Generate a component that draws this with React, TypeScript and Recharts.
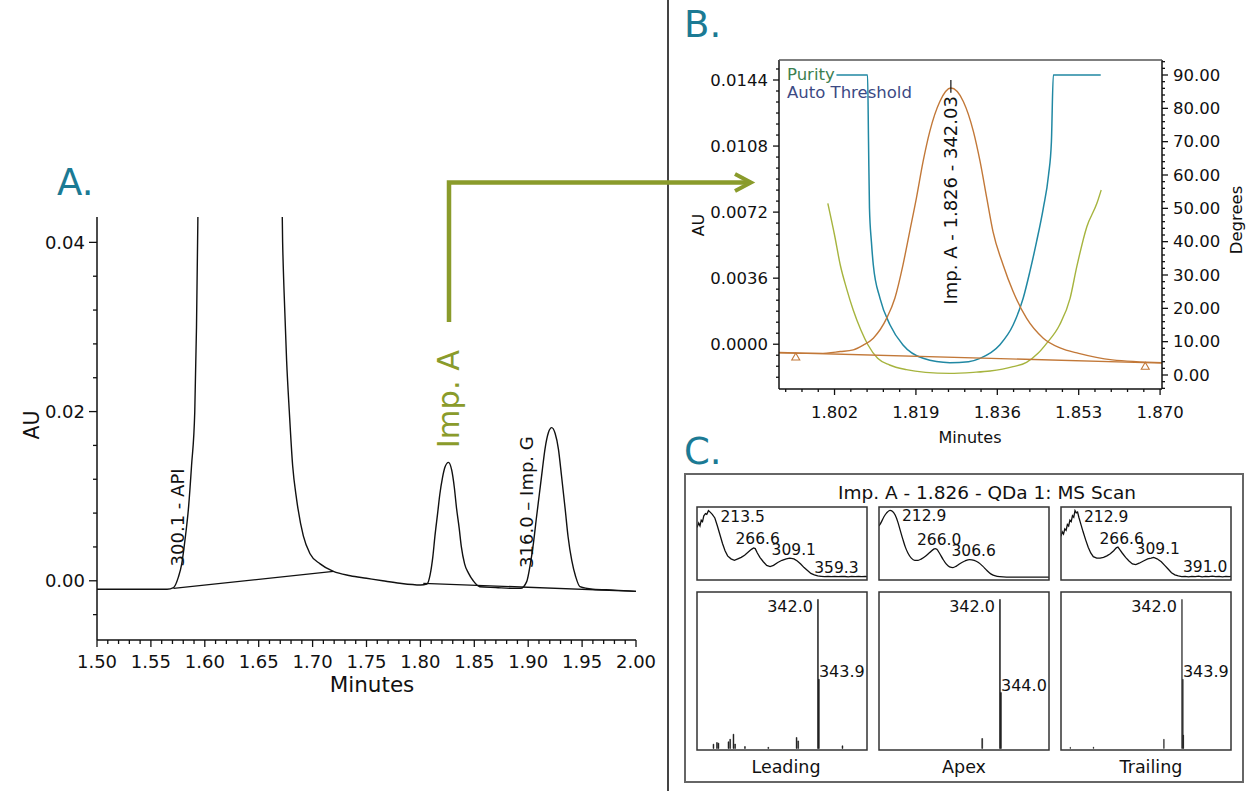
import React from 'react';
import {
  ComposedChart, LineChart, BarChart, Line, Bar, Scatter, XAxis, YAxis, ReferenceDot, ReferenceLine,
} from 'recharts';

const FONT = '"DejaVu Sans", Verdana, sans-serif';
const INK = '#111';
const HEAD = '#1b7a94';
const ARROW = '#8a9b2b';
const ORANGE = '#c27838';
const TEAL = '#2088a3';
const OLIVE = '#a6b43e';

// ---------------- Panel A: UV chromatogram (minutes, AU) ----------------
const chromA: [number, number][] = [
  [1.5, -0.001], [1.53, -0.001], [1.555, -0.001], [1.565, -0.001], [1.571, -0.0008], [1.5754, 0.0004],
  [1.5786, 0.002], [1.5816, 0.0048], [1.585, 0.0088], [1.5877, 0.0136], [1.5907, 0.02], [1.5923, 0.03],
  [1.5935, 0.042], [1.595, 0.06], [1.6, 0.15], [1.63, 0.5], [1.665, 0.15], [1.67, 0.06], [1.6722, 0.04],
  [1.6735, 0.0343], [1.6759, 0.026], [1.6784, 0.02], [1.6815, 0.0136], [1.6852, 0.0096], [1.6914, 0.0053],
  [1.6976, 0.0032], [1.707, 0.002], [1.7193, 0.0011], [1.735, 0.0006], [1.75, 0.0003], [1.765, 0.0],
  [1.781, -0.0003], [1.8, -0.0005], [1.806, -0.0004], [1.809, 0.0007], [1.8115, 0.0028], [1.8135, 0.0053],
  [1.816, 0.008], [1.818, 0.0102], [1.8205, 0.0122], [1.823, 0.0135], [1.826, 0.014], [1.829, 0.0131],
  [1.8315, 0.011], [1.8335, 0.0086], [1.836, 0.0062], [1.838, 0.004], [1.841, 0.002], [1.8446, 0.0009],
  [1.849, 0.0], [1.855, -0.0007], [1.87, -0.0008], [1.885, -0.0009], [1.893, -0.0009], [1.8986, -0.0001],
  [1.902, 0.002], [1.9048, 0.0044], [1.9075, 0.0073], [1.9103, 0.0102], [1.913, 0.013], [1.9156, 0.0156],
  [1.9187, 0.0175], [1.9218, 0.0181], [1.925, 0.0174], [1.928, 0.0156], [1.931, 0.0123], [1.9342, 0.0086],
  [1.937, 0.0052], [1.9404, 0.0024], [1.944, 0.0005], [1.948, -0.0007], [1.96, -0.001], [1.98, -0.0011],
  [2.0, -0.00125],
];
const baseA1: [number, number][] = [[1.571, -0.0009], [1.7193, 0.0011]];
const baseA2: [number, number][] = [[1.8027, -0.0003], [2.0, -0.00125]];
const aXMajors = [1.5, 1.55, 1.6, 1.65, 1.7, 1.75, 1.8, 1.85, 1.9, 1.95, 2.0];
const aXLabels = ['1.50', '1.55', '1.60', '1.65', '1.70', '1.75', '1.80', '1.85', '1.90', '1.95', '2.00'];
const aYMajors = [0, 0.02, 0.04];
const aYLabels = ['0.00', '0.02', '0.04'];
const aPeakNames = [
  { t: 1.575, v: -0.0009, text: '300.1 - API' },
  { t: 1.895, v: -0.0009, text: '316.0 \u2013 Imp. G' },
];

// ---------------- Panel B: peak purity (minutes, AU / degrees) ----------------
const peakB: [number, number][] = [
  [1.7904, -0.00047], [1.799, -0.0005], [1.8032, -0.0004], [1.8059, -0.00031], [1.808, -0.00005],
  [1.8101, 0.00033], [1.8129, 0.00142], [1.8146, 0.00251], [1.8163, 0.00433], [1.8177, 0.00614],
  [1.8191, 0.00796], [1.8205, 0.00996], [1.8219, 0.0116], [1.824, 0.01323], [1.8263, 0.01396],
  [1.8289, 0.01323], [1.831, 0.0116], [1.8324, 0.00996], [1.8338, 0.00796], [1.8351, 0.00614],
  [1.8372, 0.00433], [1.8393, 0.00287], [1.8421, 0.00142], [1.8456, 0.00033], [1.8491, -0.0002],
  [1.853, -0.0005], [1.86, -0.00085], [1.8704, -0.001],
];
const baseB: [number, number][] = [[1.7904, -0.00045], [1.8704, -0.00103]];
const markersB: [number, number][] = [[1.7939, -0.0007], [1.8669, -0.0012]];
const purityB: [number, number][] = [
  [1.8024, 90], [1.8089, 90], [1.8091, 70], [1.8093, 50], [1.8097, 40], [1.8101, 33], [1.8115, 23],
  [1.8136, 15], [1.8163, 9], [1.8205, 5], [1.8261, 3.7], [1.83, 4], [1.8324, 5], [1.8365, 9],
  [1.8393, 15], [1.8414, 23], [1.8428, 31], [1.8442, 40], [1.8456, 50], [1.8467, 60], [1.8473, 70],
  [1.8477, 90], [1.8576, 90],
];
const thresholdB: [number, number][] = [
  [1.8006, 51.5], [1.802, 42], [1.8032, 33], [1.8045, 26], [1.8059, 19.5], [1.8075, 13.5], [1.809, 9],
  [1.811, 5], [1.8135, 3], [1.817, 1.6], [1.821, 0.8], [1.826, 0.5], [1.831, 0.8], [1.8345, 1.2],
  [1.8393, 2.5], [1.8421, 3.8], [1.8445, 6.5], [1.8463, 9.5], [1.849, 15], [1.8512, 23], [1.8526, 32.5],
  [1.8547, 44.5], [1.8568, 51.5], [1.8577, 55.5],
];
const bApex = { t: 1.8263, v: 0.01396, text: 'Imp. A - 1.826 - 342.03' };
const bXMajors = [1.802, 1.819, 1.836, 1.853, 1.87];
const bXLabels = ['1.802', '1.819', '1.836', '1.853', '1.870'];
const bAUMajors = [0, 0.0036, 0.0072, 0.0108, 0.0144];
const bAULabels = ['0.0000', '0.0036', '0.0072', '0.0108', '0.0144'];
const bDegMajors = [0, 10, 20, 30, 40, 50, 60, 70, 80, 90];
const bDegLabels = ['0.00', '10.00', '20.00', '30.00', '40.00', '50.00', '60.00', '70.00', '80.00', '90.00'];

// ---------------- Panel C: UV spectra (nm, rel. abs) and MS spectra (m/z, %) ----------------
const uvLeading: [number, number][] = [
  [200, 0.72], [202, 0.78], [203.5, 0.74], [205, 0.82], [206.5, 0.8], [208, 0.88], [210, 0.91], [211.5, 0.9],
  [213.5, 0.95], [215.5, 0.93], [218, 0.9], [221, 0.85], [224, 0.74], [227, 0.62], [230, 0.5], [233, 0.4],
  [236, 0.33], [240, 0.29], [244, 0.27], [248, 0.29], [252, 0.31], [256, 0.34], [260, 0.38], [264, 0.42],
  [266.6, 0.44], [268.5, 0.43], [271, 0.37], [274, 0.31], [278, 0.25], [282, 0.2], [286, 0.185], [290, 0.2],
  [295, 0.24], [300, 0.27], [305, 0.29], [309.1, 0.3], [314, 0.29], [318, 0.26], [322, 0.22], [326, 0.17],
  [330, 0.13], [334, 0.09], [338, 0.07], [342, 0.055], [346, 0.05], [350, 0.045], [354, 0.05], [358, 0.045],
  [362, 0.05], [366, 0.045], [370, 0.05], [374, 0.048], [378, 0.044], [382, 0.05], [386, 0.046], [390, 0.05],
  [394, 0.045], [398, 0.05], [400, 0.047],
];
const uvApex: [number, number][] = [
  [200, 0.74], [203, 0.8], [206, 0.87], [209, 0.92], [212.9, 0.955], [216, 0.94], [219, 0.89], [222, 0.8],
  [225, 0.68], [228, 0.56], [231, 0.45], [234, 0.37], [238, 0.3], [242, 0.27], [246, 0.27], [250, 0.29],
  [255, 0.33], [260, 0.38], [264, 0.42], [266, 0.43], [268, 0.42], [271, 0.37], [275, 0.29], [279, 0.22],
  [283, 0.18], [287, 0.17], [291, 0.19], [296, 0.23], [301, 0.26], [306.6, 0.28], [312, 0.27], [317, 0.24],
  [322, 0.19], [327, 0.13], [332, 0.08], [337, 0.055], [342, 0.045], [350, 0.04], [360, 0.04], [380, 0.04],
  [400, 0.04],
];
const uvTrailing: [number, number][] = [
  [200, 0.6], [201.5, 0.66], [203, 0.63], [204.5, 0.7], [206, 0.68], [207.5, 0.76], [209, 0.74], [210.5, 0.82],
  [212, 0.8], [213.5, 0.88], [215, 0.86], [216.5, 0.95], [218, 0.92], [219.5, 0.93], [221, 0.86], [223, 0.78],
  [226, 0.66], [229, 0.55], [232, 0.45], [235, 0.37], [238, 0.32], [242, 0.3], [246, 0.3], [250, 0.31],
  [254, 0.33], [258, 0.36], [262, 0.4], [265, 0.44], [267, 0.45], [269, 0.42], [272, 0.37], [276, 0.31],
  [280, 0.26], [284, 0.22], [288, 0.21], [292, 0.23], [297, 0.26], [302, 0.29], [306, 0.3], [309.1, 0.31],
  [313, 0.29], [318, 0.25], [322, 0.2], [326, 0.15], [330, 0.1], [334, 0.07], [338, 0.055], [342, 0.045],
  [346, 0.05], [350, 0.042], [354, 0.05], [358, 0.045], [362, 0.052], [366, 0.044], [370, 0.05], [374, 0.046],
  [378, 0.052], [382, 0.045], [386, 0.05], [390, 0.044], [394, 0.05], [398, 0.046], [400, 0.05],
];
const uvLeadingPeaks = [
  { x: 213.5, y: 0.95, text: '213.5', kind: 'right' },
  { x: 266.6, y: 0.44, text: '266.6', kind: 'top' },
  { x: 309.1, y: 0.3, text: '309.1', kind: 'top' },
  { x: 359.3, y: 0.045, text: '359.3', kind: 'top' },
];
const uvApexPeaks = [
  { x: 212.9, y: 0.955, text: '212.9', kind: 'right' },
  { x: 266.0, y: 0.43, text: '266.0', kind: 'top' },
  { x: 306.6, y: 0.28, text: '306.6', kind: 'top' },
];
const uvTrailingPeaks = [
  { x: 212.9, y: 0.95, text: '212.9', kind: 'right' },
  { x: 266.6, y: 0.45, text: '266.6', kind: 'top' },
  { x: 309.1, y: 0.31, text: '309.1', kind: 'top' },
  { x: 391.0, y: 0.045, text: '391.0', kind: 'topLeft' },
];
const msLeading: [number, number][] = [
  [133, 2.9], [140, 4], [143, 3.6], [163, 4.5], [166.4, 6.2], [173, 9.6], [176.3, 3], [196, 1.3],
  [242.7, 0.8], [299.3, 7.4], [302.5, 5.1], [342, 100], [343.9, 46.4], [391, 1.8],
];
const msApex: [number, number][] = [[306.5, 6.7], [342, 100], [344, 37.5]];
const msTrailing: [number, number][] = [[118.5, 0.8], [165, 1], [305.9, 6.2], [342, 100], [343.9, 46.4], [344.9, 9]];
const msLeadingPeaks = [
  { x: 342, y: 100, text: '342.0', kind: 'msLeft' },
  { x: 343.9, y: 46.4, text: '343.9', kind: 'msRight' },
];
const msApexPeaks = [
  { x: 342, y: 100, text: '342.0', kind: 'msLeft' },
  { x: 344, y: 37.5, text: '344.0', kind: 'msRight' },
];
const msTrailingPeaks = [
  { x: 342, y: 100, text: '342.0', kind: 'msLeft' },
  { x: 343.9, y: 46.4, text: '343.9', kind: 'msRight' },
];
const cTitle = 'Imp. A - 1.826 - QDa 1: MS Scan';
const cNames = ['Leading', 'Apex', 'Trailing'];

// ---------------- helpers ----------------
const toTV = (a: [number, number][]) => a.map(([t, v]) => ({ t, v }));
const toTD = (a: [number, number][]) => a.map(([t, d]) => ({ t, d }));
const toXY = (a: [number, number][]) => a.map(([x, y]) => ({ x, y }));
const toMS = (a: [number, number][]) => a.map(([mz, i]) => ({ mz, i }));
function seq(a: number, b: number, step: number) {
  const out: number[] = [];
  const n = Math.round((b - a) / step);
  for (let i = 0; i <= n; i++) out.push(+(a + i * step).toFixed(6));
  return out;
}

type TickCfg = {
  side: 'left' | 'right' | 'bottom'; majors: number[]; labels: string[];
  majorLen: number; minorLen: number; gap: number; fontSize: number;
};
const makeTick = (c: TickCfg) => (p: any) => {
  const { x, y, payload } = p;
  const v = payload.value;
  const i = c.majors.findIndex((m) => Math.abs(m - v) < 1e-6);
  const len = i >= 0 ? c.majorLen : c.minorLen;
  const label = i >= 0 ? c.labels[i] : null;
  if (c.side === 'bottom') {
    return (
      <g>
        <line x1={x} x2={x} y1={y} y2={y + len} stroke={INK} strokeWidth={1.3} />
        {label && (
          <text x={x} y={y + c.gap} textAnchor="middle" dominantBaseline="central" fontSize={c.fontSize} fontFamily={FONT} fill={INK}>{label}</text>
        )}
      </g>
    );
  }
  const dir = c.side === 'left' ? -1 : 1;
  return (
    <g>
      <line x1={x} x2={x + dir * len} y1={y} y2={y} stroke={INK} strokeWidth={1.3} />
      {label && (
        <text x={x + dir * c.gap} y={y} textAnchor={c.side === 'left' ? 'end' : 'start'} dominantBaseline="central" fontSize={c.fontSize} fontFamily={FONT} fill={INK}>{label}</text>
      )}
    </g>
  );
};

const rotLabel = (text: string, dx: number, dy: number, anchor: 'start' | 'end', size: number, color = INK) => (p: any) => {
  const vb = p.viewBox || {};
  const x = (vb.x || 0) + dx;
  const y = (vb.y || 0) + dy;
  return (
    <text x={x} y={y} transform={`rotate(-90 ${x} ${y})`} textAnchor={anchor} dominantBaseline="central" fontSize={size} fontFamily={FONT} fill={color}>{text}</text>
  );
};

const PLACE: Record<string, { anchor: 'start' | 'middle' | 'end'; dx: number; dy: number }> = {
  right: { anchor: 'start', dx: 12, dy: 11 },
  top: { anchor: 'middle', dx: 4, dy: -3.5 },
  topLeft: { anchor: 'end', dx: 4, dy: -5 },
  msLeft: { anchor: 'end', dx: -5, dy: 13 },
  msRight: { anchor: 'start', dx: 0, dy: -2 },
};
const peakLabel = (text: string, kind: string, size: number) => (p: any) => {
  const vb = p.viewBox || {};
  const pl = PLACE[kind];
  return (
    <text x={(vb.x || 0) + pl.dx} y={(vb.y || 0) + pl.dy} textAnchor={pl.anchor} fontSize={size} fontFamily={FONT} fill={INK}>{text}</text>
  );
};

const triangle = (p: any) => {
  const { cx, cy } = p;
  return <path d={`M${cx},${cy - 4} L${cx + 4},${cy + 3} L${cx - 4},${cy + 3} Z`} fill="none" stroke={ORANGE} strokeWidth={1.1} />;
};

// ---------------- chart pieces ----------------
function PanelA() {
  return (
    <ComposedChart width={668} height={720} margin={{ top: 217, right: 32, bottom: 20, left: 27 }}>
      <XAxis type="number" dataKey="t" domain={[1.5, 2.0]} ticks={seq(1.5, 2.0, 0.01)} interval={0}
        allowDataOverflow tickSize={0} tickMargin={0} tickLine={false} height={60}
        axisLine={{ stroke: INK, strokeWidth: 1.5 }}
        tick={makeTick({ side: 'bottom', majors: aXMajors, labels: aXLabels, majorLen: 7, minorLen: 4, gap: 21, fontSize: 18 })} />
      <YAxis type="number" dataKey="v" domain={[-0.007, 0.043]} ticks={seq(-0.004, 0.04, 0.004)} interval={0}
        allowDataOverflow tickSize={0} tickMargin={0} tickLine={false} width={70}
        axisLine={{ stroke: INK, strokeWidth: 1.5 }}
        tick={makeTick({ side: 'left', majors: aYMajors, labels: aYLabels, majorLen: 8, minorLen: 4, gap: 12, fontSize: 18 })} />
      <Line data={toTV(baseA1)} dataKey="v" type="linear" dot={false} stroke={INK} strokeWidth={1.3} isAnimationActive={false} />
      <Line data={toTV(baseA2)} dataKey="v" type="linear" dot={false} stroke={INK} strokeWidth={1.3} isAnimationActive={false} />
      <Line data={toTV(chromA)} dataKey="v" type="monotone" dot={false} stroke={INK} strokeWidth={1.4} isAnimationActive={false} />
      {aPeakNames.map((p, i) => (
        <ReferenceDot key={i} x={p.t} y={p.v} r={0} fill="none" stroke="none" ifOverflow="visible"
          label={rotLabel(p.text, i === 0 ? -0.5 : 4, i === 0 ? -22 : -20.5, 'start', 18)} />
      ))}
    </ComposedChart>
  );
}

function PanelB() {
  return (
    <ComposedChart width={579} height={420} margin={{ top: 20, right: 17, bottom: 31, left: 19 }}>
      <XAxis type="number" dataKey="t" domain={[1.7904, 1.8704]} ticks={seq(1.7918, 1.87, 0.0034)} interval={0}
        allowDataOverflow tickSize={0} tickMargin={0} tickLine={false} height={40}
        axisLine={{ stroke: INK, strokeWidth: 1.5 }}
        tick={makeTick({ side: 'bottom', majors: bXMajors, labels: bXLabels, majorLen: 6, minorLen: 3, gap: 23, fontSize: 16.5 })} />
      <YAxis yAxisId="au" orientation="left" type="number" dataKey="v" domain={[-0.00244, 0.01549]}
        ticks={seq(-0.0018, 0.015, 0.0006)} interval={0} allowDataOverflow tickSize={0} tickMargin={0}
        tickLine={false} width={80} axisLine={{ stroke: INK, strokeWidth: 1.5 }}
        tick={makeTick({ side: 'left', majors: bAUMajors, labels: bAULabels, majorLen: 6, minorLen: 3, gap: 11, fontSize: 16.5 })} />
      <YAxis yAxisId="deg" orientation="right" type="number" domain={[-4.2, 94.5]}
        ticks={seq(-4, 94, 2)} interval={0} allowDataOverflow tickSize={0} tickMargin={0}
        tickLine={false} width={80} axisLine={{ stroke: INK, strokeWidth: 1.5 }}
        tick={makeTick({ side: 'right', majors: bDegMajors, labels: bDegLabels, majorLen: 6, minorLen: 3, gap: 11, fontSize: 16.5 })} />
      <Line yAxisId="deg" data={toTD(thresholdB)} dataKey="d" type="monotone" dot={false} stroke={OLIVE} strokeWidth={1.4} isAnimationActive={false} />
      <Line yAxisId="deg" data={toTD(purityB)} dataKey="d" type="monotone" dot={false} stroke={TEAL} strokeWidth={1.5} isAnimationActive={false} />
      <Line yAxisId="au" data={toTV(baseB)} dataKey="v" type="linear" dot={false} stroke={ORANGE} strokeWidth={1.4} isAnimationActive={false} />
      <Line yAxisId="au" data={toTV(peakB)} dataKey="v" type="monotone" dot={false} stroke={ORANGE} strokeWidth={1.4} isAnimationActive={false} />
      <Scatter yAxisId="au" data={toTV(markersB)} dataKey="v" shape={triangle} isAnimationActive={false} />
      <ReferenceLine yAxisId="au" segment={[{ x: bApex.t, y: 0.0137 }, { x: bApex.t, y: 0.0144 }]} stroke={INK} strokeWidth={1.2} />
      <ReferenceDot yAxisId="au" x={bApex.t} y={bApex.v} r={0} fill="none" stroke="none" ifOverflow="visible"
        label={rotLabel(bApex.text, 0, 8, 'end', 18)} />
    </ComposedChart>
  );
}

function UVChart({ data, peaks, smooth }: { data: [number, number][]; peaks: any[]; smooth?: boolean }) {
  return (
    <LineChart width={170} height={73} data={toXY(data)} margin={{ top: 0, right: 0, bottom: 0, left: 0 }}>
      <XAxis type="number" dataKey="x" domain={[200, 400]} hide />
      <YAxis type="number" dataKey="y" domain={[0, 1]} hide width={0} />
      <Line dataKey="y" type={smooth ? 'monotone' : 'linear'} dot={false} stroke={INK} strokeWidth={1.3} isAnimationActive={false} />
      {peaks.map((p, i) => (
        <ReferenceDot key={i} x={p.x} y={p.y} r={0} fill="none" stroke="none" ifOverflow="visible" label={peakLabel(p.text, p.kind, 15.5)} />
      ))}
    </LineChart>
  );
}

function MSChart({ data, peaks }: { data: [number, number][]; peaks: any[] }) {
  return (
    <BarChart width={170} height={158} data={toMS(data)} margin={{ top: 0, right: 0, bottom: 1.5, left: 0 }}>
      <XAxis type="number" dataKey="mz" domain={[100, 440]} hide />
      <YAxis type="number" domain={[0, 105]} hide width={0} />
      <Bar dataKey="i" fill={INK} stroke={INK} strokeWidth={0.5} barSize={1.6} isAnimationActive={false} />
      {peaks.map((p, i) => (
        <ReferenceDot key={i} x={p.x} y={p.y} r={0} fill="none" stroke="none" ifOverflow="visible" label={peakLabel(p.text, p.kind, 16)} />
      ))}
    </BarChart>
  );
}

const abs = (left: number, top: number): React.CSSProperties => ({ position: 'absolute', left, top });
const boxX = [697, 879, 1061];

export default function App() {
  const uv = [
    { d: uvLeading, p: uvLeadingPeaks, s: false },
    { d: uvApex, p: uvApexPeaks, s: true },
    { d: uvTrailing, p: uvTrailingPeaks, s: false },
  ];
  const ms = [
    { d: msLeading, p: msLeadingPeaks },
    { d: msApex, p: msApexPeaks },
    { d: msTrailing, p: msTrailingPeaks },
  ];
  return (
    <div style={{ position: 'absolute', left: 0, top: 0, width: 1259, height: 791, background: '#fff', overflow: 'hidden', fontFamily: FONT }}>
      <div style={abs(0, 0)}><PanelA /></div>
      <div style={abs(680, 40)}><PanelB /></div>
      {uv.map((u, i) => (
        <div key={'uv' + i} style={abs(boxX[i], 507)}><UVChart data={u.d} peaks={u.p} smooth={u.s} /></div>
      ))}
      {ms.map((m, i) => (
        <div key={'ms' + i} style={abs(boxX[i], 592)}><MSChart data={m.d} peaks={m.p} /></div>
      ))}
      <svg width={1259} height={791} style={{ position: 'absolute', left: 0, top: 0, pointerEvents: 'none' }}>
        <line x1={668} y1={0} x2={668} y2={791} stroke="#444" strokeWidth={2} />
        <text x={57} y={195} fontSize={37} fontFamily={FONT} fill={HEAD}>A.</text>
        <text x={684} y={37} fontSize={37} fontFamily={FONT} fill={HEAD}>B.</text>
        <text x={684} y={464} fontSize={37} fontFamily={FONT} fill={HEAD}>C.</text>

        <text x={32} y={425} transform="rotate(-90 32 425)" textAnchor="middle" dominantBaseline="central" fontSize={20.5} fontFamily={FONT} fill={INK}>AU</text>
        <text x={372} y={684} textAnchor="middle" dominantBaseline="central" fontSize={21.5} fontFamily={FONT} fill={INK}>Minutes</text>

        <polyline points="449,322 449,182.5 748,182.5" fill="none" stroke={ARROW} strokeWidth={4.5} />
        <polyline points="735,174 751,182.5 735,191" fill="none" stroke={ARROW} strokeWidth={4} />
        <text x={448} y={399} transform="rotate(-90 448 399)" textAnchor="middle" dominantBaseline="central" fontSize={30.5} fontFamily={FONT} fill={ARROW}>Imp. A</text>

        <line x1={779} y1={60} x2={1162} y2={60} stroke="#555" strokeWidth={1.5} />
        <text x={787} y={74.5} dominantBaseline="central" fontSize={16.5} fontFamily={FONT} fill="#3c8050">Purity</text>
        <text x={787} y={92} dominantBaseline="central" fontSize={16.5} fontFamily={FONT} fill="#3c4a84">Auto Threshold</text>
        <text x={698} y={225} transform="rotate(-90 698 225)" textAnchor="middle" dominantBaseline="central" fontSize={16} fontFamily={FONT} fill={INK}>AU</text>
        <text x={1236} y={220} transform="rotate(-90 1236 220)" textAnchor="middle" dominantBaseline="central" fontSize={16.5} fontFamily={FONT} fill={INK}>Degrees</text>
        <text x={970} y={437} textAnchor="middle" dominantBaseline="central" fontSize={16} fontFamily={FONT} fill={INK}>Minutes</text>

        <rect x={685} y={474} width={558} height={308} fill="none" stroke="#666" strokeWidth={2} />
        <text x={987} y={492} textAnchor="middle" dominantBaseline="central" fontSize={18.5} fontFamily={FONT} fill={INK}>{cTitle}</text>
        {boxX.map((x, i) => (
          <g key={'b' + i}>
            <rect x={x} y={507} width={170} height={73} fill="none" stroke="#333" strokeWidth={1.5} />
            <rect x={x} y={592} width={170} height={158} fill="none" stroke="#333" strokeWidth={1.5} />
            <text x={x + 85 + (i === 0 ? 4 : i === 2 ? 5 : 0)} y={767} textAnchor="middle" dominantBaseline="central" fontSize={17.5} fontFamily={FONT} fill={INK}>{cNames[i]}</text>
          </g>
        ))}
      </svg>
    </div>
  );
}
